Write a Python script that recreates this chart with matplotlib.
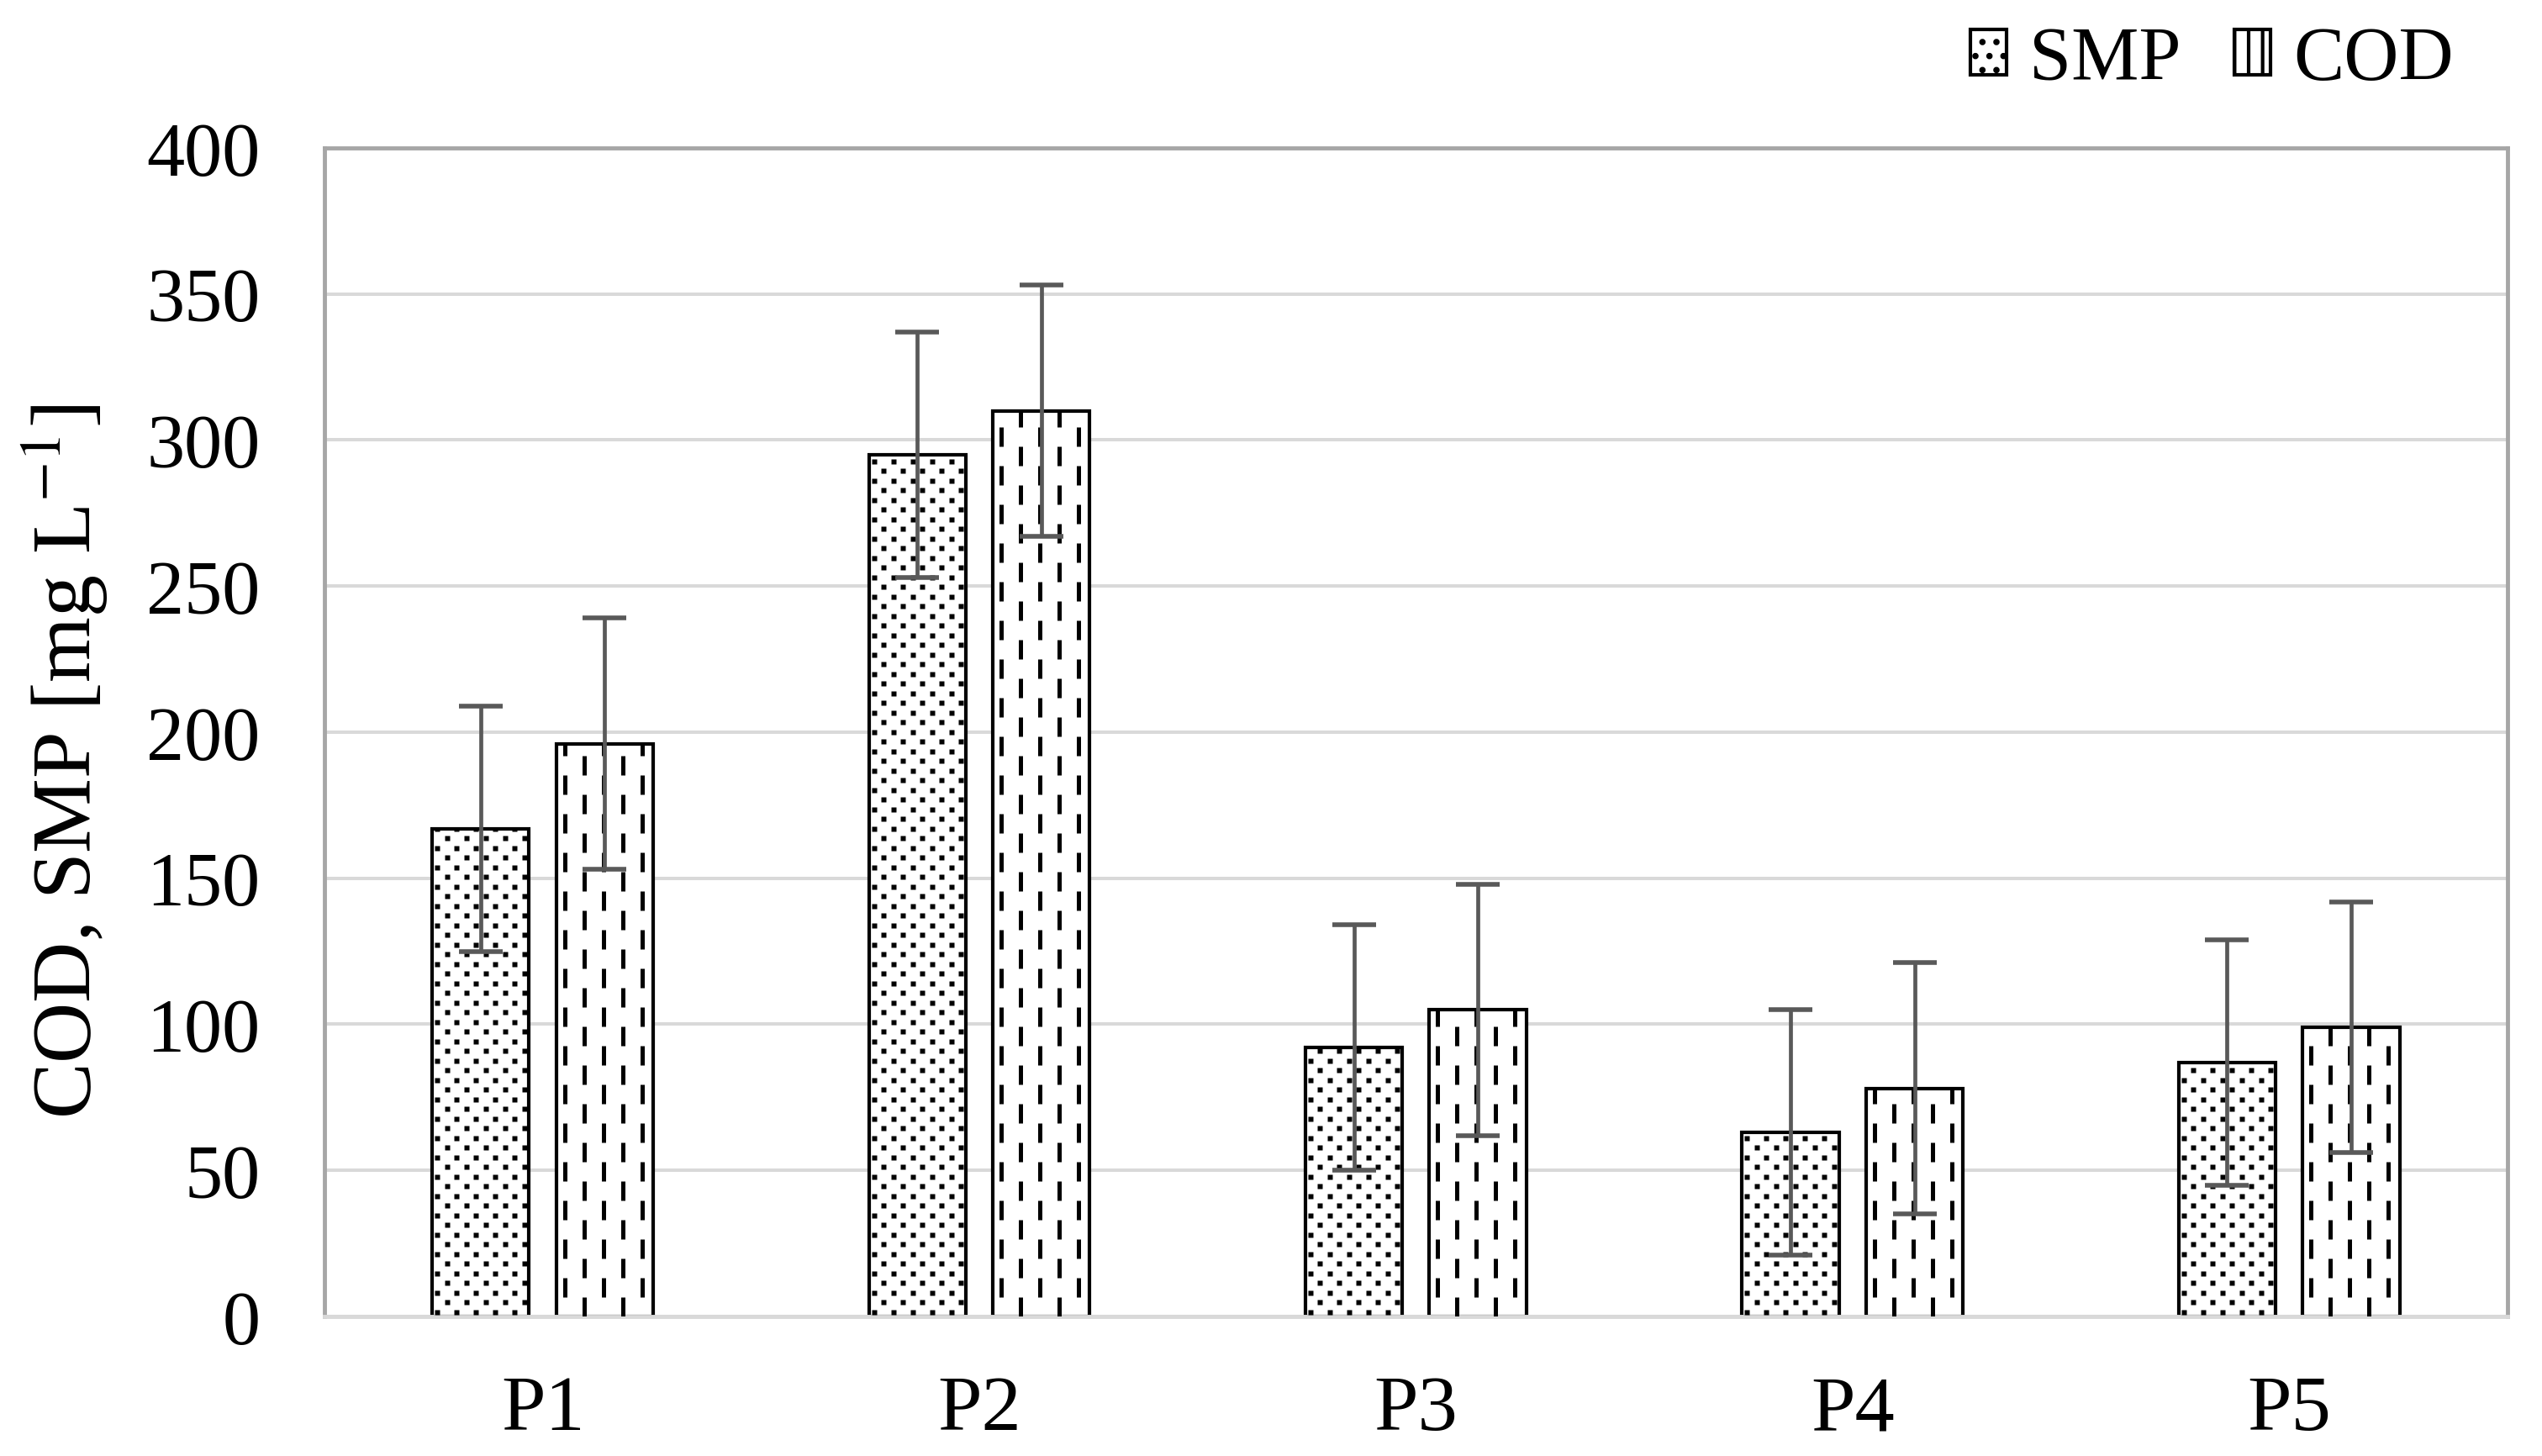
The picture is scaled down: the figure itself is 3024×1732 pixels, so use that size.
import matplotlib
matplotlib.use("Agg")
import matplotlib.pyplot as plt
from matplotlib.patches import Rectangle
import numpy as np

plt.rcParams['font.family'] = ['Liberation Serif', 'DejaVu Serif']
plt.rcParams['mathtext.fontset'] = 'stix'
plt.rcParams['lines.scale_dashes'] = False
plt.rcParams['hatch.linewidth'] = 3.0

categories = ["P1", "P2", "P3", "P4", "P5"]
smp = [167, 295, 92, 63, 87]
smp_err = [42, 42, 42, 42, 42]
cod = [196, 310, 105, 78, 99]
cod_err = [43, 43, 43, 43, 43]

DPI = 100
fig = plt.figure(figsize=(30.24, 17.33), dpi=DPI)
ax = fig.add_axes([0.1276, 0.0958, 0.8588, 0.8021])

x = np.arange(len(categories))
w = 0.222
off = 0.142

ax.set_xlim(-0.5, 4.5)
ax.set_ylim(0, 400)
ax.set_yticks(range(0, 401, 50))
ax.set_xticks(x)
ax.set_xticklabels(categories)
ax.yaxis.grid(True, color='#d9d9d9', lw=2.9)
ax.set_axisbelow(True)

bars_smp = ax.bar(x - off, smp, w, facecolor='white', edgecolor='black', lw=3.0, zorder=2)
bars_cod = ax.bar(x + off, cod, w, facecolor='white', edgecolor='black', lw=3.0, zorder=2)

# pixel -> data scales for the fill patterns
fig.canvas.draw()
bb = ax.get_window_extent()
px_x = 5.0 / bb.width
px_y = 400.0 / bb.height

# dotted fill for SMP
for b in bars_smp:
    x0, h = b.get_x(), b.get_height()
    xs, ys = [], []
    k = 0
    yy = 5
    while yy * px_y < h + 5:
        sh = 11.5 if k % 2 else 0
        xx = 6 + sh
        while xx * px_x < b.get_width():
            xs.append(x0 + xx * px_x)
            ys.append(yy * px_y)
            xx += 23
        yy += 11.5
        k += 1
    ln, = ax.plot(xs, ys, ls='none', marker='s', ms=3.8, mfc='black', mec='none', zorder=3)
    ln.set_clip_path(b)

# dashed vertical fill for COD
dash = 23 * 72 / DPI
for b in bars_cod:
    x0, h = b.get_x(), b.get_height()
    j = 0
    xx = 10
    while xx * px_x < b.get_width():
        phase = 0 if j % 2 else dash
        ln, = ax.plot([x0 + xx * px_x] * 2, [0, h], color='black', lw=3.6,
                      ls=(phase, (dash, dash)), dash_capstyle='butt', zorder=3)
        ln.set_clip_path(b)
        xx += 23
        j += 1

ax.errorbar(x - off, smp, yerr=smp_err, fmt='none', ecolor='#595959',
            elinewidth=3.4, capsize=19, capthick=4, zorder=4)
ax.errorbar(x + off, cod, yerr=cod_err, fmt='none', ecolor='#595959',
            elinewidth=3.4, capsize=19, capthick=4, zorder=4)

for s in ['top', 'right', 'left']:
    ax.spines[s].set_color('#a6a6a6')
    ax.spines[s].set_linewidth(3.5)
ax.spines['bottom'].set_color('#d9d9d9')
ax.spines['bottom'].set_linewidth(3.5)

ax.tick_params(axis='y', length=0, pad=55, labelsize=65)
ax.tick_params(axis='x', length=0, pad=50, labelsize=68)

ax.set_ylabel(r'COD, SMP [mg L$^{-1}$]', fontsize=72)
ax.yaxis.label.set_va('center')
ax.yaxis.set_label_coords(-0.119, 0.4755)

h1 = Rectangle((0, 0), 1, 1, facecolor='white', edgecolor='black', lw=3.0, hatch='.')
h2 = Rectangle((0, 0), 1, 1, facecolor='white', edgecolor='black', lw=3.0, hatch='|')
fig.legend([h1, h2], ['SMP', 'COD'], loc='center right',
           bbox_to_anchor=(0.9653, 0.958), ncol=2, frameon=False, fontsize=65,
           handlelength=0.48, handleheight=0.55, handletextpad=0.3,
           columnspacing=0.7, borderpad=0, borderaxespad=0)

fig.savefig('out.png', dpi=DPI)
